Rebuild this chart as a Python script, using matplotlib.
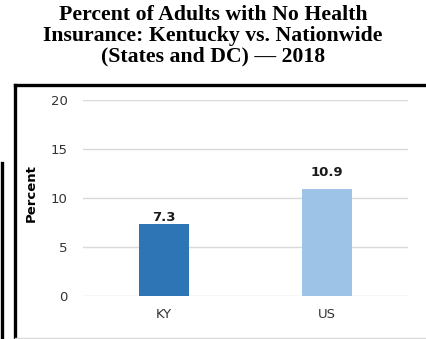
import matplotlib
matplotlib.use('Agg')
import matplotlib.pyplot as plt
from matplotlib.lines import Line2D

# data
categories = ['KY', 'US']
values = [7.3, 10.9]
bar_colors = ['#2E75B6', '#9DC3E6']
yticks = [0, 5, 10, 15, 20]
title = 'Percent of Adults with No Health\nInsurance: Kentucky vs. Nationwide\n(States and DC) \u2014 2018'

W, H = 426, 339
fig = plt.figure(figsize=(W / 100, H / 100), dpi=100)

# axes placed to match the pixel layout of the reference
ax = fig.add_axes([83 / W, 1 - 296 / H, (408 - 83) / W, (296 - 100) / H])
x = list(range(len(categories)))
bars = ax.bar(x, values, width=0.31, color=bar_colors, zorder=3)
ax.set_xlim(-0.5, 1.5)
ax.set_ylim(0, 20)
ax.set_yticks(yticks)
ax.set_xticks(x)
ax.set_xticklabels(categories)
ax.grid(axis='y', color='#D9D9D9', linewidth=1, zorder=0)
for s in ax.spines.values():
    s.set_visible(False)
ax.tick_params(length=0, labelsize=9.5, colors='#333333')
ax.tick_params(axis='y', pad=11)
ax.tick_params(axis='x', pad=9)
ax.set_ylabel('Percent', fontsize=9.5, fontweight='bold')
ax.yaxis.set_label_coords(-0.138, 0.525)

# value labels above bars
offsets = [0, 7]
for b, v, off in zip(bars, values, offsets):
    ax.annotate(f'{v}', (b.get_x() + b.get_width() / 2, v), xytext=(0, off),
                textcoords='offset points', ha='center', va='bottom',
                fontsize=9.5, fontweight='bold', color='#1a1a1a')

# title
fig.text(0.5, 1 - 5 / H, title, ha='center', va='top', family='Liberation Serif',
         fontsize=15.7, fontweight='bold', linespacing=1.05)

# frame around the chart
fig.add_artist(Line2D([14.5 / W, 1], [1 - 84.5 / H] * 2, color='black', lw=2.4))
fig.add_artist(Line2D([14.5 / W] * 2, [1 - 84.5 / H, 0], color='black', lw=2.4))
fig.add_artist(Line2D([14.5 / W, 1], [1 - 338 / H] * 2, color='#D9D9D9', lw=1))
fig.add_artist(Line2D([1.5 / W] * 2, [1 - 163 / H, 0], color='black', lw=2.4))

fig.savefig('out.png', dpi=100)
